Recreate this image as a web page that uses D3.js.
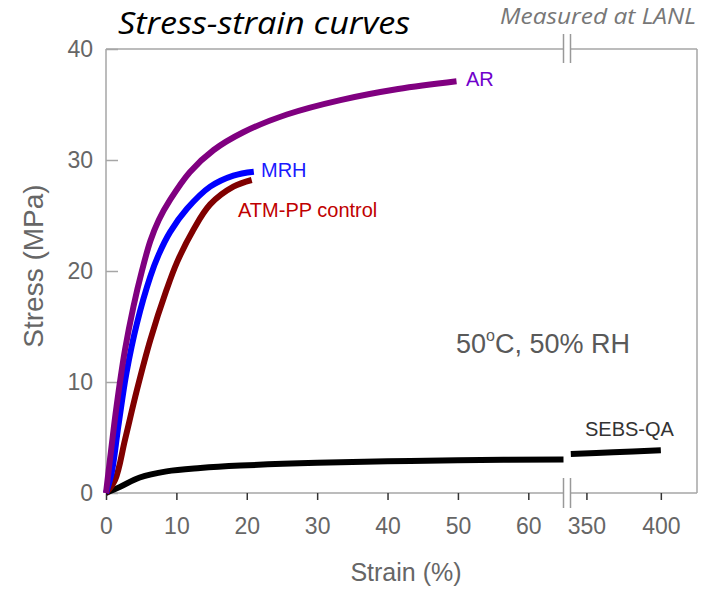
<!DOCTYPE html>
<html>
<head>
<meta charset="utf-8">
<script src="https://cdn.jsdelivr.net/npm/d3@7"></script>
<style>
  body { margin: 0; background: #fff; }
  text { font-family: Arial, "Liberation Sans", sans-serif; }
</style>
</head>
<body>
<svg width="704" height="592"></svg>
<script>
// data: [strain %, stress MPa]
var arCurve = [[0,0],[0.6,3.2],[1.5,7.8],[2.7,12.9],[3.9,16.8],[5.1,20.0],[6.3,22.7],[7.5,24.6],[9.1,26.4],[11.9,28.9],[15.3,30.9],[19.5,32.5],[25.7,34.1],[33.3,35.4],[41.5,36.4],[49.8,37.1]];
var mrhCurve = [[0,0],[0.8,1.8],[1.75,6.0],[2.9,10.8],[4.4,15.3],[6.3,19.5],[7.5,21.5],[9.1,23.5],[11.5,25.6],[14.8,27.6],[18.1,28.6],[21.0,28.95]];
var atmCurve = [[0,0],[1.3,1.2],[2.7,4.8],[4.4,9.3],[6.3,13.8],[8.6,18.3],[10.1,20.8],[12.4,23.7],[14.8,26.0],[18.1,27.6],[20.7,28.2]];
var sebsLeft = [[0,0],[2.0,0.55],[4.8,1.4],[8.6,1.95],[13.4,2.25],[19.1,2.47],[30,2.72],[40,2.85],[50,2.95],[65,3.02]];
var sebsRight = [[339.5,3.52],[368,3.67],[400,3.85]];

var xTicksLeft = [0, 10, 20, 30, 40, 50, 60];
var xTicksRight = [350, 400];
var yTicks = [0, 10, 20, 30, 40];

var svg = d3.select("svg");

var plot = {left: 106, right: 697, top: 49, bottom: 493},
    breakL = 563.5, breakR = 570.5;

var xLeft = d3.scaleLinear().domain([0, 65]).range([plot.left, breakL]);
var xRight = d3.scaleLinear().domain([339.3, 424.3]).range([breakR, plot.right]);
var y = d3.scaleLinear().domain([0, 40]).range([plot.bottom, plot.top]);

var axisGray = "#a6a6a6", labelGray = "#666";

// frame lines (with gap at the break)
var frame = svg.append("g").attr("stroke", axisGray).attr("stroke-width", 1.5);
frame.append("line").attr("x1", plot.left).attr("x2", plot.left).attr("y1", plot.top).attr("y2", plot.bottom);
frame.append("line").attr("x1", plot.right).attr("x2", plot.right).attr("y1", plot.top).attr("y2", plot.bottom);
[plot.top, plot.bottom].forEach(function(yy) {
  frame.append("line").attr("x1", plot.left).attr("x2", breakL).attr("y1", yy).attr("y2", yy);
  frame.append("line").attr("x1", breakR).attr("x2", plot.right).attr("y1", yy).attr("y2", yy);
});

// y axis, ticks pointing in
var yAxis = svg.append("g")
  .attr("transform", "translate(" + plot.left + ",0)")
  .call(d3.axisLeft(y).tickValues(yTicks).tickSize(-12).tickPadding(13));
yAxis.select(".domain").remove();
yAxis.selectAll(".tick line").attr("stroke", axisGray).attr("stroke-width", 1.5);
yAxis.selectAll(".tick text").attr("fill", labelGray).style("font-size", "23px").style("font-family", "Arial, 'Liberation Sans'");

// x axes, ticks pointing out
function styleX(g) {
  g.select(".domain").remove();
  g.selectAll(".tick line").attr("stroke", "#333").attr("stroke-width", 1.5);
  g.selectAll(".tick text").attr("fill", labelGray).style("font-size", "23px").style("font-family", "Arial, 'Liberation Sans'");
}
svg.append("g").attr("transform", "translate(0," + plot.bottom + ")")
  .call(d3.axisBottom(xLeft).tickValues(xTicksLeft).tickSize(7).tickPadding(18)).call(styleX);
svg.append("g").attr("transform", "translate(0," + plot.bottom + ")")
  .call(d3.axisBottom(xRight).tickValues(xTicksRight).tickSize(7).tickPadding(18)).call(styleX);

// break marks
var brk = svg.append("g").attr("stroke", "#999").attr("stroke-width", 1.5);
[breakL, breakR].forEach(function(bx) {
  brk.append("line").attr("x1", bx).attr("x2", bx).attr("y1", 34).attr("y2", 63);
  brk.append("line").attr("x1", bx).attr("x2", bx).attr("y1", 478).attr("y2", 508);
});

// curves
function lineFor(xs) {
  return d3.line().x(function(d) { return xs(d[0]); }).y(function(d) { return y(d[1]); }).curve(d3.curveCatmullRom.alpha(0.5));
}
var curves = [
  {data: sebsLeft, xs: xLeft, color: "#000"},
  {data: sebsRight, xs: xRight, color: "#000"},
  {data: atmCurve, xs: xLeft, color: "#800000"},
  {data: mrhCurve, xs: xLeft, color: "#0000ff"},
  {data: arCurve, xs: xLeft, color: "#800080"}
];
svg.append("g").selectAll("path")
  .data(curves)
  .enter()
  .append("path")
    .attr("d", function(c) { return lineFor(c.xs)(c.data); })
    .attr("fill", "none")
    .attr("stroke", function(c) { return c.color; })
    .attr("stroke-width", 6);

// curve labels
var labels = [
  {text: "AR", x: 466, y: 86, color: "#7000cc"},
  {text: "MRH", x: 261, y: 177, color: "#1a1aff"},
  {text: "ATM-PP control", x: 238, y: 217, color: "#c00000"},
  {text: "SEBS-QA", x: 585, y: 436, color: "#333"}
];
svg.selectAll("text.lbl")
  .data(labels)
  .enter()
  .append("text")
    .attr("class", "lbl")
    .attr("x", function(d) { return d.x; })
    .attr("y", function(d) { return d.y; })
    .attr("fill", function(d) { return d.color; })
    .style("font-size", "20px")
    .text(function(d) { return d.text; });

// condition note
var cond = svg.append("text").attr("x", 456).attr("y", 353).attr("fill", "#595959").style("font-size", "27px");
cond.append("tspan").text("50");
cond.append("tspan").attr("dy", -12).style("font-size", "16px").text("o");
cond.append("tspan").attr("dy", 12).text("C, 50% RH");

// axis titles
svg.append("text").attr("x", 406).attr("y", 581).attr("text-anchor", "middle")
  .attr("fill", labelGray).style("font-size", "25px").text("Strain (%)");
svg.append("text").attr("transform", "translate(43,266) rotate(-90)").attr("text-anchor", "middle")
  .attr("fill", labelGray).style("font-size", "28px").text("Stress (MPa)");

// title and note
svg.append("text").attr("x", 118).attr("y", 34)
  .attr("textLength", 292).attr("lengthAdjust", "spacingAndGlyphs")
  .style("font-family", "'Open Sans', sans-serif").style("font-style", "italic").style("font-size", "31px")
  .attr("fill", "#000").text("Stress-strain curves");
svg.append("text").attr("x", 500).attr("y", 24)
  .attr("textLength", 196).attr("lengthAdjust", "spacingAndGlyphs")
  .style("font-family", "'Open Sans', sans-serif").style("font-style", "italic").style("font-size", "22px")
  .attr("fill", "#777").text("Measured at LANL");
</script>
</body>
</html>
